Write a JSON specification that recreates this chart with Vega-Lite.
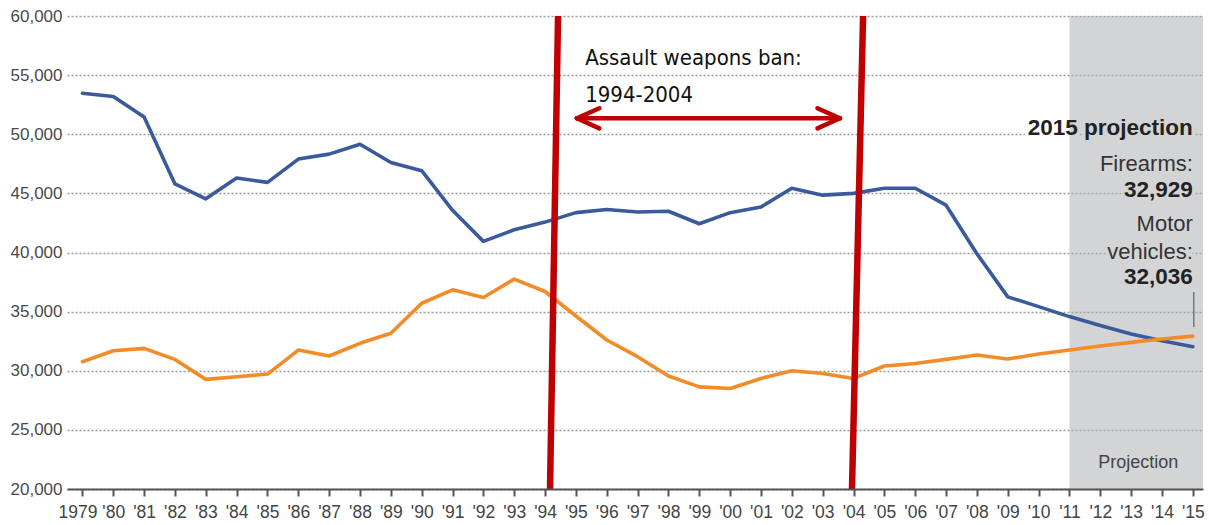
{
  "$schema": "https://vega.github.io/schema/vega-lite/v6.json",
  "width": 1136,
  "height": 473,
  "autosize": "none",
  "padding": {"left": 67, "top": 16, "right": 6, "bottom": 36},
  "background": "white",
  "config": {"view": {"stroke": null}, "font": "Liberation Sans"},
  "datasets": {
    "deaths": [
      {"year": 1979, "series": "Motor vehicles", "deaths": 53470},
      {"year": 1980, "series": "Motor vehicles", "deaths": 53190},
      {"year": 1981, "series": "Motor vehicles", "deaths": 51450},
      {"year": 1982, "series": "Motor vehicles", "deaths": 45800},
      {"year": 1983, "series": "Motor vehicles", "deaths": 44540},
      {"year": 1984, "series": "Motor vehicles", "deaths": 46300},
      {"year": 1985, "series": "Motor vehicles", "deaths": 45930},
      {"year": 1986, "series": "Motor vehicles", "deaths": 47900},
      {"year": 1987, "series": "Motor vehicles", "deaths": 48320},
      {"year": 1988, "series": "Motor vehicles", "deaths": 49160},
      {"year": 1989, "series": "Motor vehicles", "deaths": 47610},
      {"year": 1990, "series": "Motor vehicles", "deaths": 46920},
      {"year": 1991, "series": "Motor vehicles", "deaths": 43570},
      {"year": 1992, "series": "Motor vehicles", "deaths": 40940},
      {"year": 1993, "series": "Motor vehicles", "deaths": 41920},
      {"year": 1994, "series": "Motor vehicles", "deaths": 42570},
      {"year": 1995, "series": "Motor vehicles", "deaths": 43370},
      {"year": 1996, "series": "Motor vehicles", "deaths": 43630},
      {"year": 1997, "series": "Motor vehicles", "deaths": 43430},
      {"year": 1998, "series": "Motor vehicles", "deaths": 43490},
      {"year": 1999, "series": "Motor vehicles", "deaths": 42430},
      {"year": 2000, "series": "Motor vehicles", "deaths": 43370},
      {"year": 2001, "series": "Motor vehicles", "deaths": 43850},
      {"year": 2002, "series": "Motor vehicles", "deaths": 45430},
      {"year": 2003, "series": "Motor vehicles", "deaths": 44850},
      {"year": 2004, "series": "Motor vehicles", "deaths": 45000},
      {"year": 2005, "series": "Motor vehicles", "deaths": 45430},
      {"year": 2006, "series": "Motor vehicles", "deaths": 45430},
      {"year": 2007, "series": "Motor vehicles", "deaths": 44000},
      {"year": 2008, "series": "Motor vehicles", "deaths": 39900},
      {"year": 2009, "series": "Motor vehicles", "deaths": 36250},
      {"year": 2010, "series": "Motor vehicles", "deaths": 35420},
      {"year": 2011, "series": "Motor vehicles", "deaths": 34580},
      {"year": 2012, "series": "Motor vehicles", "deaths": 33830},
      {"year": 2013, "series": "Motor vehicles", "deaths": 33100},
      {"year": 2014, "series": "Motor vehicles", "deaths": 32540},
      {"year": 2015, "series": "Motor vehicles", "deaths": 32036},
      {"year": 1979, "series": "Firearms", "deaths": 30760},
      {"year": 1980, "series": "Firearms", "deaths": 31690},
      {"year": 1981, "series": "Firearms", "deaths": 31890},
      {"year": 1982, "series": "Firearms", "deaths": 30960},
      {"year": 1983, "series": "Firearms", "deaths": 29270},
      {"year": 1984, "series": "Firearms", "deaths": 29490},
      {"year": 1985, "series": "Firearms", "deaths": 29720},
      {"year": 1986, "series": "Firearms", "deaths": 31750},
      {"year": 1987, "series": "Firearms", "deaths": 31250},
      {"year": 1988, "series": "Firearms", "deaths": 32320},
      {"year": 1989, "series": "Firearms", "deaths": 33170},
      {"year": 1990, "series": "Firearms", "deaths": 35710},
      {"year": 1991, "series": "Firearms", "deaths": 36840},
      {"year": 1992, "series": "Firearms", "deaths": 36190},
      {"year": 1993, "series": "Firearms", "deaths": 37750},
      {"year": 1994, "series": "Firearms", "deaths": 36700},
      {"year": 1995, "series": "Firearms", "deaths": 34630},
      {"year": 1996, "series": "Firearms", "deaths": 32600},
      {"year": 1997, "series": "Firearms", "deaths": 31190},
      {"year": 1998, "series": "Firearms", "deaths": 29550},
      {"year": 1999, "series": "Firearms", "deaths": 28640},
      {"year": 2000, "series": "Firearms", "deaths": 28500},
      {"year": 2001, "series": "Firearms", "deaths": 29350},
      {"year": 2002, "series": "Firearms", "deaths": 30000},
      {"year": 2003, "series": "Firearms", "deaths": 29770},
      {"year": 2004, "series": "Firearms", "deaths": 29350},
      {"year": 2005, "series": "Firearms", "deaths": 30400},
      {"year": 2006, "series": "Firearms", "deaths": 30620},
      {"year": 2007, "series": "Firearms", "deaths": 30960},
      {"year": 2008, "series": "Firearms", "deaths": 31330},
      {"year": 2009, "series": "Firearms", "deaths": 30990},
      {"year": 2010, "series": "Firearms", "deaths": 31410},
      {"year": 2011, "series": "Firearms", "deaths": 31750},
      {"year": 2012, "series": "Firearms", "deaths": 32090},
      {"year": 2013, "series": "Firearms", "deaths": 32400},
      {"year": 2014, "series": "Firearms", "deaths": 32680},
      {"year": 2015, "series": "Firearms", "deaths": 32929}
    ],
    "band": [{"year": 2011, "year2": 2015.33, "deaths": 20000, "deaths2": 60000}],
    "ban": [
      {"year": 1994.42, "year2": 1994.16, "deaths": 60000, "deaths2": 20000},
      {"year": 2004.31, "year2": 2003.95, "deaths": 60000, "deaths2": 20000}
    ],
    "arrow": [
      {"year": 1995.03, "year2": 2003.56, "deaths": 51350, "deaths2": 51350},
      {"year": 1995.03, "year2": 1995.76, "deaths": 51350, "deaths2": 52200},
      {"year": 1995.03, "year2": 1995.76, "deaths": 51350, "deaths2": 50500},
      {"year": 2003.56, "year2": 2002.83, "deaths": 51350, "deaths2": 52200},
      {"year": 2003.56, "year2": 2002.83, "deaths": 51350, "deaths2": 50500}
    ],
    "tick": [{"year": 2015.03, "deaths": 36660, "deaths2": 33700}],
    "banText": [
      {"year": 1995.3, "deaths": 56450, "label": "Assault weapons ban:"},
      {"year": 1995.3, "deaths": 53320, "label": "1994-2004"}
    ],
    "boldText": [
      {"year": 2015.0, "deaths": 50528, "label": "2015 projection"},
      {"year": 2015.0, "deaths": 45285, "label": "32,929"},
      {"year": 2015.0, "deaths": 37927, "label": "32,036"}
    ],
    "plainText": [
      {"year": 2015.0, "deaths": 47484, "label": "Firearms:"},
      {"year": 2015.0, "deaths": 42410, "label": "Motor"},
      {"year": 2015.0, "deaths": 40041, "label": "vehicles:"}
    ],
    "projText": [{"year": 2013.23, "deaths": 22200, "label": "Projection"}]
  },
  "encoding": {
    "x": {
      "field": "year", "type": "quantitative",
      "scale": {"domain": [1978.5, 2015.33], "nice": false, "zero": false},
      "axis": {
        "title": null,
        "values": [1979,1980,1981,1982,1983,1984,1985,1986,1987,1988,1989,1990,1991,1992,1993,1994,1995,1996,1997,1998,1999,2000,2001,2002,2003,2004,2005,2006,2007,2008,2009,2010,2011,2012,2013,2014,2015],
        "labelExpr": "datum.value == 1979 ? '1979' : \"'\" + substring(toString(datum.value), 2, 4)",
        "labelOffset": {"condition": {"test": "datum.value == 1979", "value": -5}, "value": 0},
        "grid": false,
        "domainColor": "#555555", "domainWidth": 2,
        "tickColor": "#555555", "tickWidth": 2, "tickSize": 7,
        "labelFontSize": 17.5, "labelColor": "#444444", "labelPadding": 7,
        "labelFlush": false, "labelOverlap": false,
        "zindex": 1
      }
    },
    "y": {
      "field": "deaths", "type": "quantitative",
      "scale": {"domain": [20000, 60000], "nice": false, "zero": false},
      "axis": {
        "title": null,
        "values": [20000,25000,30000,35000,40000,45000,50000,55000,60000],
        "format": ",.0f",
        "grid": true, "gridColor": "#9a9a9a", "gridDash": [2, 2], "gridWidth": 1.6,
        "domain": false, "ticks": false,
        "labelFontSize": 17, "labelColor": "#4a4a4a", "labelPadding": 5,
        "labelFlush": false, "labelOverlap": false, "zindex": 0
      }
    }
  },
  "layer": [
    {
      "data": {"name": "boldText"},
      "mark": {"type": "text", "align": "right", "baseline": "middle", "fontSize": 22.5, "fontWeight": "bold", "stroke": "white", "strokeWidth": 7, "fill": "white", "strokeJoin": "round"},
      "encoding": {"text": {"field": "label"}}
    },
    {
      "data": {"name": "plainText"},
      "mark": {"type": "text", "align": "right", "baseline": "middle", "fontSize": 22, "stroke": "white", "strokeWidth": 7, "fill": "white", "strokeJoin": "round"},
      "encoding": {"text": {"field": "label"}}
    },
    {
      "data": {"name": "band"},
      "mark": {"type": "rect", "color": "#a7a9ad", "opacity": 0.5},
      "encoding": {"x2": {"field": "year2"}, "y2": {"field": "deaths2"}}
    },
    {
      "data": {"name": "deaths"},
      "mark": {"type": "line", "strokeWidth": 3.6, "strokeJoin": "round", "strokeCap": "round"},
      "encoding": {
        "color": {
          "field": "series", "type": "nominal", "legend": null,
          "scale": {"domain": ["Motor vehicles", "Firearms"], "range": ["#3a5a9c", "#f28c28"]}
        }
      }
    },
    {
      "data": {"name": "tick"},
      "mark": {"type": "rule", "color": "#777777", "strokeWidth": 1.5},
      "encoding": {"y2": {"field": "deaths2"}}
    },
    {
      "data": {"name": "ban"},
      "mark": {"type": "rule", "color": "#c00000", "strokeWidth": 6.5},
      "encoding": {"x2": {"field": "year2"}, "y2": {"field": "deaths2"}}
    },
    {
      "data": {"name": "arrow"},
      "mark": {"type": "rule", "color": "#c00000", "strokeWidth": 4.5, "strokeCap": "round"},
      "encoding": {"x2": {"field": "year2"}, "y2": {"field": "deaths2"}}
    },
    {
      "data": {"name": "banText"},
      "mark": {"type": "text", "align": "left", "baseline": "middle", "fontSize": 22, "font": "'Liberation Sans Narrow', 'DejaVu Sans Condensed', 'Liberation Sans', sans-serif", "color": "#111111"},
      "encoding": {"text": {"field": "label"}}
    },
    {
      "data": {"name": "boldText"},
      "mark": {"type": "text", "align": "right", "baseline": "middle", "fontSize": 22.5, "fontWeight": "bold", "color": "#222222"},
      "encoding": {"text": {"field": "label"}}
    },
    {
      "data": {"name": "plainText"},
      "mark": {"type": "text", "align": "right", "baseline": "middle", "fontSize": 22, "color": "#333333"},
      "encoding": {"text": {"field": "label"}}
    },
    {
      "data": {"name": "projText"},
      "mark": {"type": "text", "align": "center", "baseline": "middle", "fontSize": 18, "color": "#444444"},
      "encoding": {"text": {"field": "label"}}
    }
  ]
}
